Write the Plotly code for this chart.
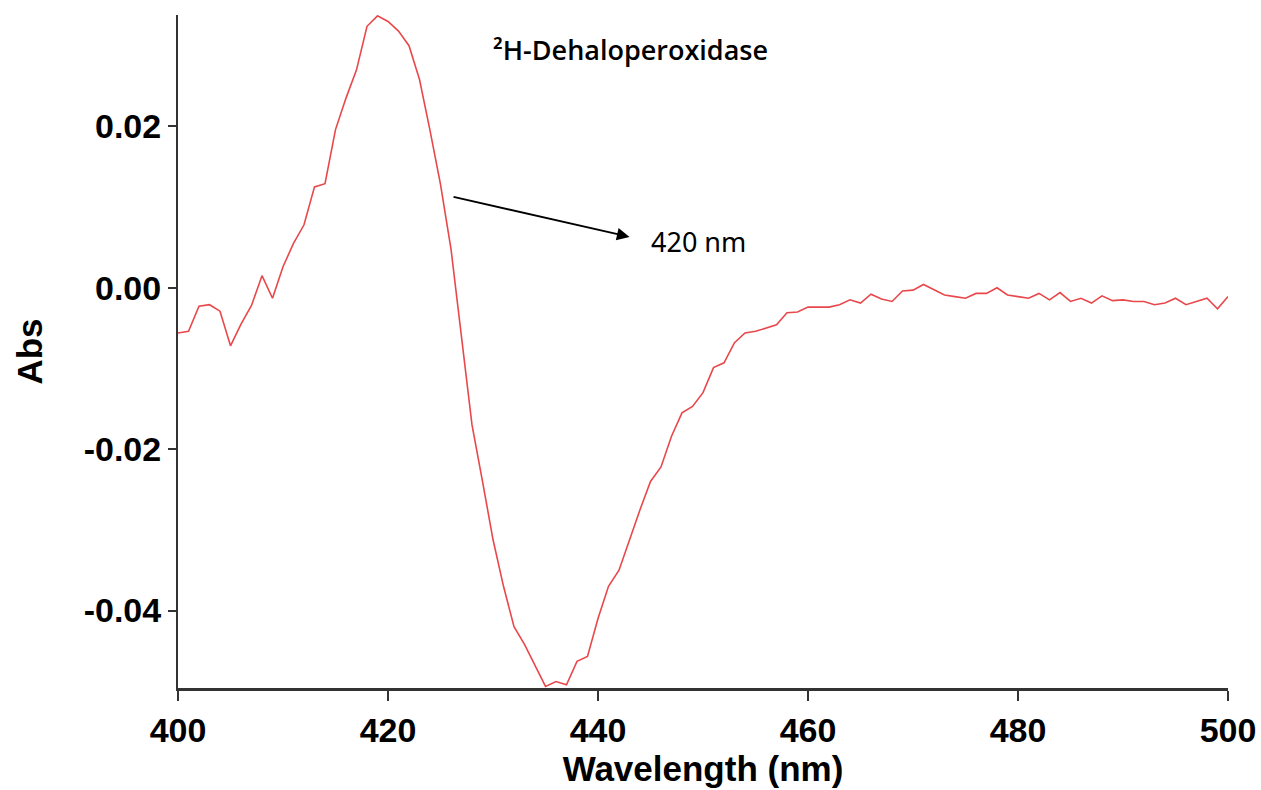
import plotly.graph_objects as go

wavelength = list(range(400, 501))
absorbance = [
    -0.0056, -0.0054, -0.0023, -0.0021, -0.0029, -0.0072, -0.0045, -0.0022, 0.0015, -0.0013,
    0.0026, 0.0055, 0.0078, 0.0125, 0.0129, 0.0196, 0.0235, 0.0270, 0.0324, 0.0337,
    0.0330, 0.0318, 0.0300, 0.0258, 0.0195, 0.0128, 0.0048, -0.0065, -0.0170, -0.0240,
    -0.0312, -0.0370, -0.0420, -0.0442, -0.0468, -0.0494, -0.0488, -0.0492, -0.0463, -0.0457,
    -0.0410, -0.0370, -0.0350, -0.0312, -0.0275, -0.0240, -0.0222, -0.0184, -0.0155, -0.0147,
    -0.0130, -0.0099, -0.0093, -0.0068, -0.0056, -0.0054, -0.0050, -0.0046, -0.0031, -0.0030,
    -0.0024, -0.0024, -0.0024, -0.0021, -0.0015, -0.0019, -0.0008, -0.0014, -0.0017, -0.0004,
    -0.0003, 0.0004, -0.0002, -0.0009, -0.0011, -0.0013, -0.0007, -0.0007, 0.0000, -0.0009,
    -0.0011, -0.0013, -0.0007, -0.0015, -0.0006, -0.0017, -0.0013, -0.0019, -0.0010, -0.0016,
    -0.0015, -0.0017, -0.0017, -0.0021, -0.0019, -0.0013, -0.0021, -0.0017, -0.0013, -0.0026,
    -0.0011,
]
x_ticks = [400, 420, 440, 460, 480, 500]
y_ticks = [-0.04, -0.02, 0.00, 0.02]
y_tick_labels = ["-0.04", "-0.02", "0.00", "0.02"]

fig = go.Figure()
fig.add_trace(go.Scatter(
    x=wavelength, y=absorbance, mode="lines",
    line=dict(color="#e8484b", width=1.6), showlegend=False, hoverinfo="skip",
))

fig.add_annotation(
    x=443.0, y=0.0063, ax=426.1, ay=0.0113, xref="x", yref="y", axref="x", ayref="y",
    text="", showarrow=True, arrowhead=2, arrowsize=1.4, arrowwidth=1.8, arrowcolor="black",
)
fig.add_annotation(
    x=444.9, y=0.0057, xref="x", yref="y", text="420 nm", showarrow=False,
    xanchor="left", yanchor="middle",
    font=dict(family="Noto Sans, Open Sans, sans-serif", size=27, color="black"),
)
fig.add_annotation(
    x=443.1, y=0.0295, xref="x", yref="y", text="²H-Dehaloperoxidase", showarrow=False,
    xanchor="center", yanchor="middle",
    font=dict(family="Open Sans, Noto Sans, sans-serif", size=27, color="black", weight=600),
)

axis_font = dict(family="Liberation Sans, Arial, sans-serif", size=34, color="black", weight="bold")
title_font = dict(family="Liberation Sans, Arial, sans-serif", size=35, color="black", weight="bold")
fig.update_layout(
    width=1261, height=790,
    margin=dict(l=178, r=33, t=15, b=102),
    paper_bgcolor="white", plot_bgcolor="white",
    xaxis=dict(
        range=[400, 500], tickvals=x_ticks, ticks="outside", ticklen=10, tickwidth=1.5,
        tickcolor="#333", showline=True, linecolor="#333", linewidth=2.5, showgrid=False,
        zeroline=False, tickfont=axis_font, automargin=False,
        title=dict(text="Wavelength (nm)", font=title_font, standoff=6),
    ),
    yaxis=dict(
        range=[-0.0496, 0.0338], tickvals=y_ticks, ticktext=y_tick_labels, ticks="outside",
        ticklen=8, tickwidth=1.5, tickcolor="#333", showline=True, linecolor="#333", linewidth=2,
        showgrid=False, zeroline=False, tickfont=axis_font, automargin=False,
        title=dict(text="Abs", font=title_font, standoff=30),
    ),
)
fig.write_html("out.html")
